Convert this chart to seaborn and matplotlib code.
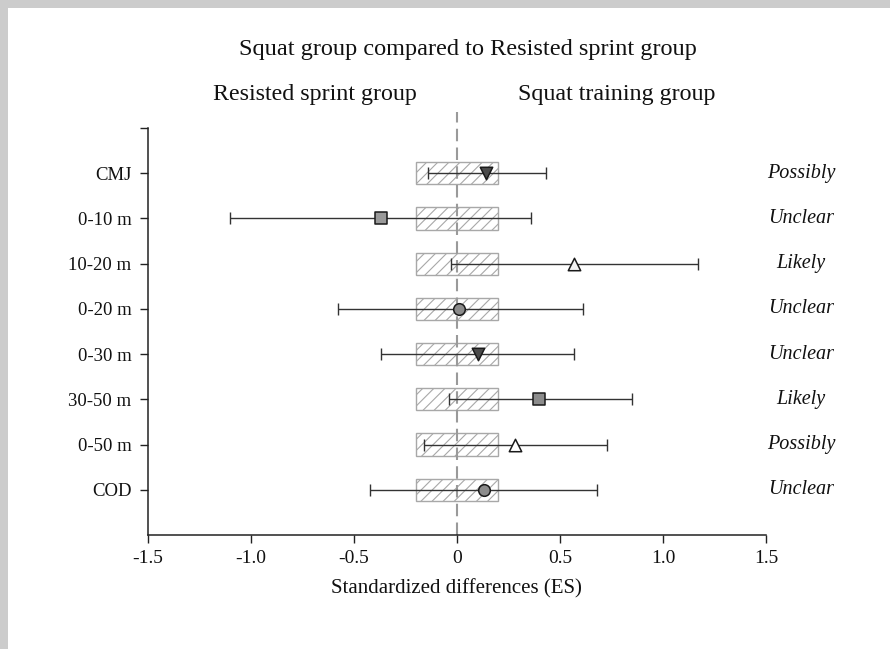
import matplotlib
matplotlib.use("Agg")
import matplotlib.pyplot as plt
import seaborn as sns
import pandas as pd
import numpy as np

# ---- data ----
categories = ["CMJ", "0-10 m", "10-20 m", "0-20 m", "0-30 m", "30-50 m", "0-50 m", "COD"]
es = [0.14, -0.37, 0.57, 0.01, 0.10, 0.40, 0.28, 0.13]
ci_low = [-0.14, -1.10, -0.03, -0.58, -0.37, -0.04, -0.16, -0.42]
ci_high = [0.43, 0.36, 1.17, 0.61, 0.57, 0.85, 0.73, 0.68]
outcomes = ["Possibly", "Unclear", "Likely", "Unclear", "Unclear", "Likely", "Possibly", "Unclear"]
marker_shapes = ["v", "s", "^", "o", "v", "s", "^", "o"]
marker_fills = ["#4a4a4a", "#9a9a9a", "#f2f2f2", "#8c8c8c", "#4a4a4a", "#8c8c8c", "#ffffff", "#8c8c8c"]
trivial_low, trivial_high = -0.2, 0.2
xticks = [-1.5, -1.0, -0.5, 0, 0.5, 1.0, 1.5]
xtick_labels = ["-1.5", "-1.0", "-0.5", "0", "0.5", "1.0", "1.5"]

df = pd.DataFrame({"cat": categories, "es": es, "lo": ci_low, "hi": ci_high,
                   "outcome": outcomes, "marker": marker_shapes, "fill": marker_fills})
df["pos"] = np.arange(1, len(categories) + 1)

sns.set_style("ticks")
plt.rcParams["font.family"] = ["Liberation Serif", "DejaVu Serif"]
plt.rcParams["hatch.linewidth"] = 0.8

fig = plt.figure(figsize=(8.9, 6.49), dpi=100)
fig.patch.set_facecolor("white")
ax = fig.add_axes([0.1663, 0.1757, 0.6944, 0.6271])

# trivial zone boxes
ax.barh(df["pos"], width=trivial_high - trivial_low, left=trivial_low, height=0.49,
        facecolor="white", edgecolor="#a8a8a8", hatch="///", linewidth=1.0, zorder=1)

# zero line
ax.axvline(0, ymin=0, ymax=1.04, color="#9a9a9a", lw=1.5, dashes=(6, 3), zorder=2, clip_on=False)

# confidence intervals
ax.errorbar(df["es"], df["pos"], xerr=[df["es"] - df["lo"], df["hi"] - df["es"]],
            fmt="none", ecolor="#333333", elinewidth=1.0, capsize=4.5, capthick=1.0, zorder=3)

# markers via seaborn
for _, r in df.iterrows():
    m = r["marker"]
    sns.scatterplot(x=[r["es"]], y=[r["pos"]], marker=m, s=80 if m != "o" else 70,
                    color=r["fill"], edgecolor="#1a1a1a", linewidth=1.1, ax=ax, zorder=4,
                    legend=False)

ax.set_xlim(-1.5, 1.5)
ax.set_ylim(9, 0)
ax.set_yticks(range(0, 9))
ax.set_yticklabels([""] + categories, fontsize=13.5)
ax.set_xticks(xticks)
ax.set_xticklabels(xtick_labels, fontsize=14)
ax.tick_params(axis="both", direction="out", length=6, width=1.0, color="#222222", labelcolor="#111111")
ax.tick_params(axis="x", pad=5)
ax.tick_params(axis="y", pad=6)
ax.set_xlabel("")
ax.set_ylabel("")
for s in ["top", "right"]:
    ax.spines[s].set_visible(False)
for s in ["left", "bottom"]:
    ax.spines[s].set_linewidth(1.1)
    ax.spines[s].set_color("#222222")

# outcome labels
for _, r in df.iterrows():
    ax.text(1.67, r["pos"], r["outcome"], ha="center", va="center", fontsize=14.5,
            style="italic", color="#111111", clip_on=False)

fig.text(0.526, 0.924, "Squat group compared to Resisted sprint group", ha="center", va="center",
         fontsize=17.5, color="#111111")
fig.text(0.354, 0.855, "Resisted sprint group", ha="center", va="center", fontsize=17.3, color="#111111")
fig.text(0.693, 0.855, "Squat training group", ha="center", va="center", fontsize=17.3, color="#111111")
fig.text(0.513, 0.0925, "Standardized differences (ES)", ha="center", va="center", fontsize=15,
         color="#111111")

# gray page border
fig.patches.append(plt.Rectangle((0, 1 - 8 / 649), 1, 8 / 649, transform=fig.transFigure,
                                 facecolor="#cccccc", edgecolor="none"))
fig.patches.append(plt.Rectangle((0, 0), 8 / 890, 1, transform=fig.transFigure,
                                 facecolor="#cccccc", edgecolor="none"))

fig.savefig("out.png", dpi=100)
